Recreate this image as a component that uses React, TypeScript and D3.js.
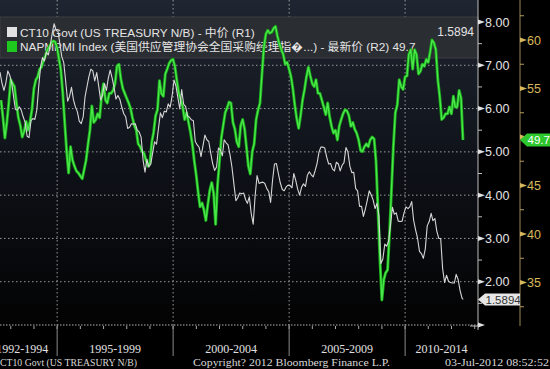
import React, { useEffect } from "react";
import * as d3 from "d3";

// monthly 10y yield, Jul 1992 .. Jun 2012
const yields = [
  6.84, 6.59, 6.42, 6.59, 6.87, 6.77,
  6.60, 6.26, 5.98, 5.97, 6.04, 5.96, 5.81, 5.68, 5.36, 5.33, 5.72, 5.77,
  5.75, 5.97, 6.48, 6.97, 7.18, 7.10, 7.30, 7.24, 7.46, 7.74, 7.96, 7.81,
  7.78, 7.47, 7.20, 7.06, 6.63, 6.17, 6.28, 6.49, 6.20, 6.04, 5.93, 5.71,
  5.65, 5.81, 6.27, 6.51, 6.74, 6.91, 6.87, 6.64, 6.83, 6.53, 6.20, 6.30,
  6.58, 6.42, 6.69, 6.89, 6.71, 6.49, 6.22, 6.30, 6.21, 6.03, 5.88, 5.81,
  5.54, 5.57, 5.65, 5.64, 5.65, 5.50, 5.46, 5.34, 4.81, 4.53, 4.83, 4.65,
  4.72, 5.00, 5.23, 5.18, 5.54, 5.90, 5.79, 5.94, 5.92, 6.11, 6.03, 6.28,
  6.66, 6.52, 6.26, 5.99, 6.44, 6.10, 6.05, 5.83, 5.80, 5.74, 5.72, 5.24,
  5.16, 5.10, 4.89, 5.14, 5.39, 5.28, 5.24, 4.97, 4.73, 4.57, 4.65, 5.09,
  5.04, 4.91, 5.28, 5.21, 5.16, 4.93, 4.65, 4.26, 3.87, 3.94, 4.05, 4.03,
  4.05, 3.90, 3.81, 3.96, 3.57, 3.33, 3.98, 4.45, 4.27, 4.29, 4.30, 4.27,
  4.15, 4.08, 3.83, 4.35, 4.72, 4.73, 4.50, 4.28, 4.13, 4.10, 4.19, 4.23,
  4.22, 4.17, 4.50, 4.34, 4.14, 4.00, 4.18, 4.26, 4.20, 4.46, 4.54, 4.47,
  4.42, 4.57, 4.72, 4.99, 5.11, 5.11, 5.09, 4.88, 4.72, 4.73, 4.60, 4.56,
  4.76, 4.72, 4.56, 4.69, 4.75, 5.10, 5.00, 4.67, 4.52, 4.53, 4.15, 4.10,
  3.74, 3.74, 3.51, 3.68, 3.88, 4.10, 4.01, 3.89, 3.69, 3.81, 3.53, 2.42,
  2.52, 2.87, 2.82, 2.93, 3.29, 3.72, 3.56, 3.59, 3.40, 3.39, 3.40, 3.59,
  3.73, 3.69, 3.73, 3.85, 3.42, 3.20, 3.01, 2.70, 2.65, 2.54, 2.76, 3.29,
  3.39, 3.58, 3.41, 3.46, 3.17, 3.00, 3.00, 2.30, 1.98, 2.15, 2.01, 1.98,
  1.97, 1.97, 2.17, 2.05, 1.80, 1.62,
];
const latestYield = 1.5894;

// monthly PMI, Jul 1992 .. Jun 2012
const pmi = [
  53.8, 52.0, 49.9, 51.5, 53.5, 55.9,
  55.5, 55.2, 53.5, 52.0, 51.2, 50.0, 50.6, 51.6, 50.7, 51.6, 52.8, 55.0,
  55.9, 56.2, 57.0, 57.2, 57.9, 58.4, 59.0, 59.3, 59.7, 59.9, 59.8, 59.2,
  58.0, 56.9, 54.5, 51.5, 48.5, 46.3, 49.0, 47.6, 47.0, 46.5, 46.3, 46.0,
  45.7, 46.6, 47.6, 49.2, 50.7, 53.2, 51.5, 51.8, 52.4, 52.0, 54.2, 55.5,
  53.8, 53.5, 54.5, 54.5, 54.8, 55.5, 57.3, 57.5, 56.0, 55.0, 54.5, 54.0,
  53.5, 53.0, 52.0, 51.2, 50.7, 49.3, 49.0, 48.5, 48.3, 47.6, 47.0, 47.3,
  49.5, 50.5, 52.2, 52.8, 55.8, 54.5, 54.2, 56.5, 57.0, 57.6, 57.9, 58.0,
  57.2, 55.8, 54.5, 53.8, 53.1, 51.8, 52.5, 51.5, 50.5, 49.2, 47.5, 46.0,
  44.2, 42.8, 43.2, 42.5, 41.4, 43.0, 44.5, 45.3, 44.2, 41.0, 45.0, 47.5,
  50.0, 51.2, 52.5, 53.0, 53.6, 53.5, 51.5, 50.8, 49.5, 49.0, 51.2, 51.8,
  50.8, 49.0, 47.0, 46.2, 48.5, 49.3, 51.8, 52.8, 53.5, 56.5, 59.2, 60.6,
  61.0, 60.7, 60.8, 61.2, 61.4, 60.4, 59.6, 59.0, 58.5, 57.5, 57.7, 57.0,
  56.2, 55.0, 53.3, 51.9, 50.9, 52.2, 53.8, 54.9, 56.2, 57.2, 56.3, 55.5,
  55.2, 55.9, 54.5, 54.5, 53.8, 53.1, 52.3, 53.5, 52.1, 51.1, 50.4, 50.7,
  49.7, 51.1, 51.8, 52.4, 52.8, 52.7, 52.2, 51.1, 51.5, 50.8, 50.4, 49.7,
  48.6, 48.5, 49.0, 49.3, 49.0, 49.7, 50.0, 49.8, 47.5, 42.5, 37.5, 33.2,
  35.3, 36.0, 36.3, 40.0, 44.5, 49.0, 52.5, 53.3, 55.9, 55.2, 54.9, 56.2,
  56.3, 58.5, 59.0, 57.0, 59.0, 58.5, 56.5, 56.8, 57.5, 57.3, 58.0, 57.7,
  58.8, 60.0, 59.7, 59.0, 55.9, 54.2, 51.8, 52.0, 52.4, 52.4, 53.1, 52.4,
  54.2, 53.1, 53.1, 54.8, 54.0, 49.7,
];

const leftTicks = [1, 2, 3, 4, 5, 6, 7, 8];
const rightTicks = [35, 40, 45, 50, 55, 60];
const periodLabels = ["1992-1994", "1995-1999", "2000-2004", "2005-2009", "2010-2014"];
const periodStarts = [1992, 1995, 2000, 2005, 2010];
const periodEnds = [1995, 2000, 2005, 2010, 2015];

const W = 550;
const H = 369;
const plotR = 478;
const plotB = 325;
const sans = "'Liberation Sans', Arial, 'Noto Sans CJK SC', sans-serif";
const serif = "'Liberation Serif', 'Times New Roman', serif";

export default function App() {
  useEffect(() => {
    document.body.style.margin = "0";
    document.body.style.background = "#000";
  }, []);

  const x = d3.scaleTime()
    .domain([new Date(1992, 6, 15), new Date(2013, 1, 6)])
    .range([0, plotR - 1]);
  const yL = d3.scaleLinear().domain([1, 8]).range([plotB, 22]);
  const yR = d3.scaleLinear().domain([30, 60]).range([331, 40]);

  const yieldPts: [Date, number][] = yields.map((v, i) => [new Date(1992, 6 + i, 15), v]);
  yieldPts.push([new Date(2012, 6, 3), latestYield]);
  const pmiPts: [Date, number][] = pmi.map((v, i) => [new Date(1992, 7 + i, 0), v]);

  const lineL = d3.line<[Date, number]>().x(d => x(d[0])).y(d => yL(d[1]));
  const lineR = d3.line<[Date, number]>().x(d => x(d[0])).y(d => yR(d[1]));

  const yearTicks = d3.range(1993, 2014).map(yr => x(new Date(yr, 0, 1)));
  const gridYears = [1995, 2000, 2005, 2010].map(yr => x(new Date(yr, 0, 1)));

  const leftMinor = d3.range(1.5, 8.5, 1);
  const rightMinor = d3.range(32.5, 65, 5);
  const lastPmi = pmi[pmi.length - 1];
  const gy = yR(lastPmi);
  const wy = yL(latestYield);

  return (
    <svg width={W} height={H} style={{ display: "block", background: "#000" }}>
      <defs>
        <linearGradient id="bg" x1="0" y1="0" x2="0" y2="1">
          <stop offset="0" stopColor="#1f2531" />
          <stop offset="0.55" stopColor="#0d1016" />
          <stop offset="1" stopColor="#030303" />
        </linearGradient>
        <clipPath id="plot">
          <rect x={0} y={0} width={plotR} height={plotB} />
        </clipPath>
      </defs>
      <rect x={0} y={0} width={plotR} height={plotB} fill="url(#bg)" />

      {/* grid */}
      {leftTicks.filter(t => t > 1).map(t => (
        <line key={"h" + t} x1={0} x2={plotR} y1={yL(t)} y2={yL(t)}
          stroke="#9a9a9a" strokeWidth={1} strokeDasharray="1.5,2.5" />
      ))}
      {gridYears.map((gx, i) => (
        <line key={"v" + i} x1={gx} x2={gx} y1={0} y2={plotB}
          stroke="#9a9a9a" strokeWidth={1} strokeDasharray="1.5,2.5" />
      ))}
      <line x1={0} x2={plotR} y1={plotB} y2={plotB} stroke="#b0b0b0" strokeDasharray="1.5,1.5" />

      {/* legend box */}
      <rect x={0} y={17} width={plotR} height={41} fill="#2a2d32" stroke="#3c3f44" strokeWidth={1} />
      <rect x={7} y={27} width={10} height={10} fill="#e2e2e2" />
      <rect x={7} y={41} width={10} height={11} fill="#1ec81e" />
      <text x={20} y={37} fontFamily={sans} fontSize={11.8} fill="#e4e4e4">
        CT10 Govt (US TREASURY N/B) - 中价 (R1)
      </text>
      <text x={474} y={36} fontFamily={sans} fontSize={12} fill="#e4e4e4" textAnchor="end">
        {latestYield.toFixed(4)}
      </text>
      <text x={20} y={51} fontFamily={sans} fontSize={11.8} fill="#e4e4e4">
        NAPMPMI Index (美国供应管理协会全国采购经理指{"\uFFFD"}...) - 最新价 (R2) {lastPmi.toFixed(1)}
      </text>

      {/* series */}
      <g clipPath="url(#plot)">
        <path d={lineR(pmiPts) ?? ""} fill="none" stroke="#17a317" strokeWidth={3} strokeLinejoin="round" />
        <path d={lineR(pmiPts) ?? ""} fill="none" stroke="#4be84b" strokeWidth={1.4} strokeLinejoin="round" />
        <path d={lineL(yieldPts) ?? ""} fill="none" stroke="#d6d6d6" strokeWidth={1.1} strokeLinejoin="round" />
      </g>

      {/* bottom axis */}
      {yearTicks.map((tx, i) => (
        <line key={"yt" + i} x1={tx} x2={tx} y1={plotB + 1} y2={plotB + 4} stroke="#aaa" />
      ))}
      {gridYears.map((gx, i) => (
        <line key={"sep" + i} x1={gx} x2={gx} y1={plotB} y2={356} stroke="#8a8a8a" />
      ))}
      {periodLabels.map((lab, i) => {
        const a = x(new Date(periodStarts[i], 0, 1));
        const b = Math.min(x(new Date(periodEnds[i], 0, 1)), plotR);
        return (
          <text key={lab} x={(a + b) / 2} y={353} textAnchor="middle"
            fontFamily={serif} fontSize={12} fill="#e0e0e0">{lab}</text>
        );
      })}

      {/* left axis */}
      <line x1={plotR} x2={plotR} y1={0} y2={330} stroke="#bdbdbd" />
      {leftTicks.map(t => (
        <g key={"lt" + t}>
          <path d={`M${plotR},${yL(t) - 2.5}L${plotR + 7},${yL(t)}L${plotR},${yL(t) + 2.5}Z`} fill="#e0e0e0" />
          {t > 1 && (
            <text x={plotR + 7} y={yL(t) + 4.5} fontFamily={sans} fontSize={12.5} fill="#e4e4e4">
              {t.toFixed(2)}
            </text>
          )}
        </g>
      ))}
      {leftMinor.map(t => (
        <line key={"lm" + t} x1={plotR} x2={plotR + 4} y1={yL(t)} y2={yL(t)} stroke="#bdbdbd" />
      ))}
      <line x1={plotR - 8} x2={plotR} y1={plotB + 1} y2={plotB + 1} stroke="#bdbdbd" />

      {/* right axis */}
      <line x1={520} x2={520} y1={0} y2={326} stroke="#9b8751" />
      {rightTicks.map(t => (
        <g key={"rt" + t}>
          <path d={`M520,${yR(t) - 2.5}L527,${yR(t)}L520,${yR(t) + 2.5}Z`} fill="#d8b85c" />
          {Math.abs(yR(t) - gy) > 10 && (
            <text x={527} y={yR(t) + 4.5} fontFamily={sans} fontSize={12.5} fill="#d8b85c">{t}</text>
          )}
        </g>
      ))}
      {rightMinor.map(t => (
        <line key={"rm" + t} x1={520} x2={524} y1={yR(t)} y2={yR(t)} stroke="#b59b5a" />
      ))}

      {/* last value tags */}
      <path d={`M520,${gy}L527,${gy - 6.5}L550,${gy - 6.5}L550,${gy + 6.5}L527,${gy + 6.5}Z`} fill="#2ec82e" />
      <text x={527.5} y={gy + 4.3} fontFamily={sans} fontSize={11.5} fill="#ffffff">{lastPmi.toFixed(1)}</text>
      <path d={`M478,${wy}L485,${wy - 6}L520,${wy - 6}L520,${wy + 6}L485,${wy + 6}Z`} fill="#e6e6e6" />
      <text x={485.5} y={wy + 4.3} fontFamily={sans} fontSize={11.5} fill="#333">{latestYield.toFixed(4)}</text>

      {/* footer */}
      <text x={0} y={366} fontFamily={serif} fontSize={10.5} fill="#d8d8d8" textLength={137} lengthAdjust="spacingAndGlyphs">
        CT10 Govt (US TREASURY N/B)
      </text>
      <text x={193} y={366} fontFamily={serif} fontSize={10.5} fill="#d8d8d8" textLength={197} lengthAdjust="spacingAndGlyphs">
        Copyright? 2012 Bloomberg Finance L.P.
      </text>
      <text x={549} y={366} fontFamily={serif} fontSize={10.5} fill="#d8d8d8" textAnchor="end" textLength={104} lengthAdjust="spacingAndGlyphs">
        03-Jul-2012 08:52:52
      </text>
    </svg>
  );
}
